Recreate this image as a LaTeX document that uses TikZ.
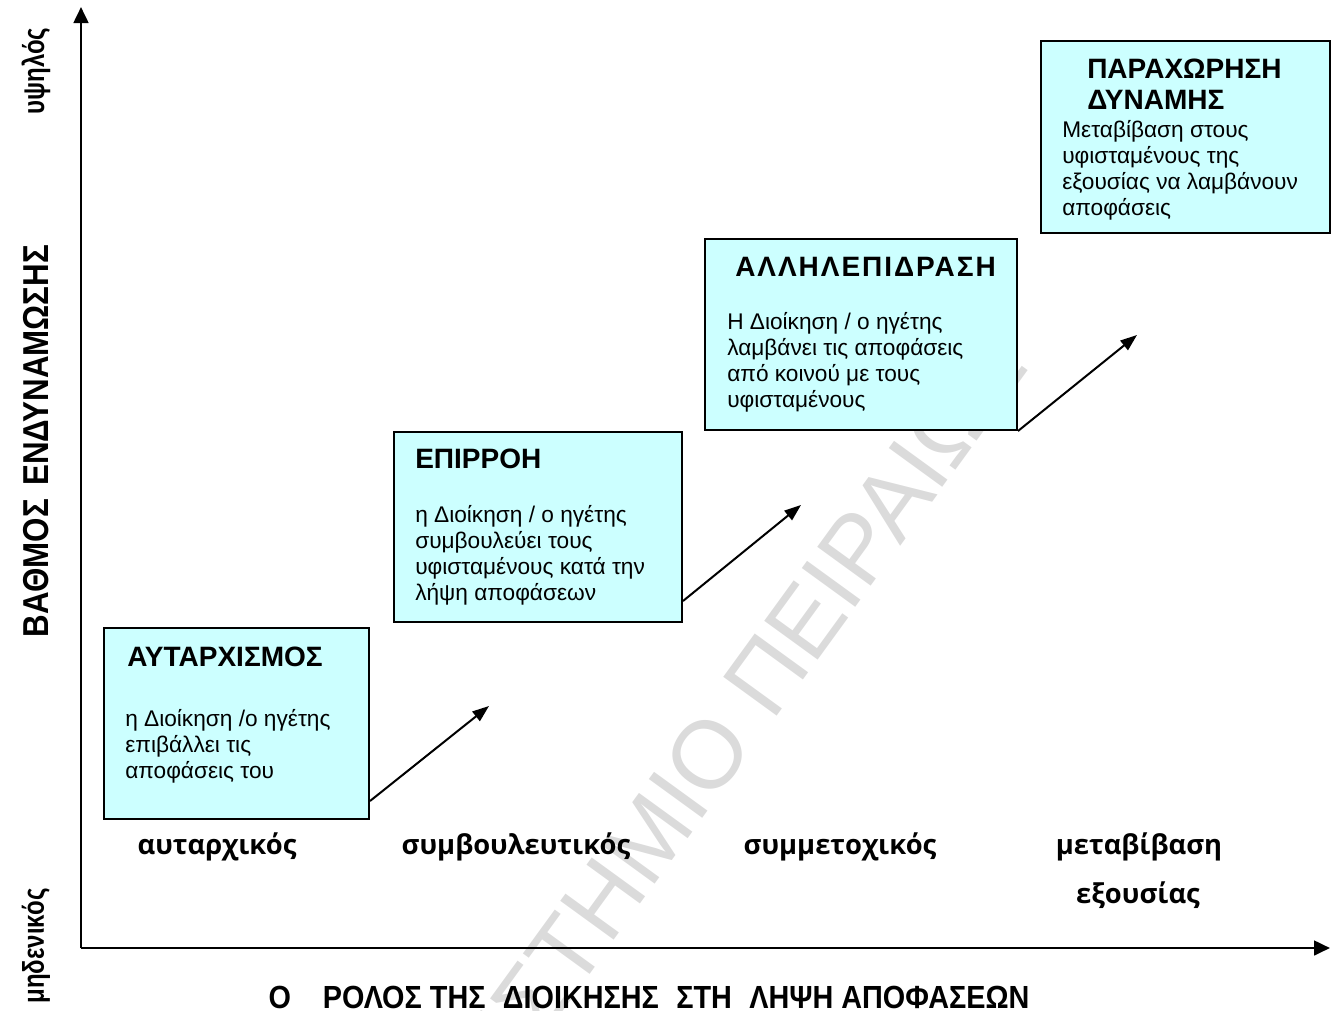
\documentclass[tikz,border=0pt]{standalone}
\usepackage{fontspec}
\setmainfont{Liberation Sans}
\newfontfamily\narrowA[FakeStretch=0.8]{Liberation Sans Bold}
\newfontfamily\narrowM[FakeStretch=0.87]{Liberation Sans Bold}
\newfontfamily\narrowB[FakeStretch=0.9]{Liberation Sans Bold}
\newfontfamily\labelfont{Open Sans}
\usetikzlibrary{arrows.meta,fit}
\definecolor{boxcyan}{HTML}{CCFFFF}
\begin{document}
\begin{tikzpicture}[x=0.75pt,y=-0.75pt,
  box/.style={draw=black, line width=1.5pt, fill=boxcyan, inner sep=0pt},
  ttl/.style={anchor=base west, inner sep=0pt, font=\fontsize{21}{25}\selectfont\bfseries},
  body/.style={anchor=base west, inner sep=0pt, align=left, font=\fontsize{17}{19.5}\selectfont},
  lvl/.style={anchor=base, inner sep=0pt, font=\labelfont\fontsize{20.5}{36}\selectfont\bfseries},
  axisline/.style={line width=2pt, -{Triangle[length=12pt,width=11pt]}},
  stepar/.style={line width=1.5pt, -{Triangle[length=12.5pt,width=9pt]}},
  ylab/.style={rotate=90, inner sep=0pt}
]
\useasboundingbox (0,0) rectangle (1334,1010);
% watermark
\begin{scope}
\clip (0,0) rectangle (1334,1010);
\node[rotate=54, text=black!14, font=\fontsize{72}{72}\selectfont, inner sep=0pt] (wm) at (652,832) {ΠΑΝΕΠΙΣΤΗΜΙΟ ΠΕΙΡΑΙΩΣ};
\end{scope}
% axes
\coordinate (O) at (81,948);
\coordinate (ytop) at (81,7);
\coordinate (xend) at (1330,948);
\draw[axisline] (O) -- (ytop);
\draw[axisline] (O) -- (xend);
% boxes
\node[box, fit={(104,628) (369,819)}] (b1) {};
\node[box, fit={(394,432) (682,622)}] (b2) {};
\node[box, fit={(705,239) (1017,430)}] (b3) {};
\node[box, fit={(1041,41) (1330,233)}] (b4) {};
% box texts
\node[ttl] (b1t) at (127,666) {ΑΥΤΑΡΧΙΣΜΟΣ};
\node[body] (b1b) at (125,778) {η Διοίκηση /ο ηγέτης\\επιβάλλει τις\\αποφάσεις του};
\node[ttl] (b2t) at (415,468) {ΕΠΙΡΡΟΗ};
\node[body] (b2b) at (415,600) {η Διοίκηση / ο ηγέτης\\συμβουλεύει τους\\υφισταμένους κατά την\\λήψη αποφάσεων};
\node[ttl, font=\fontsize{21}{25}\selectfont\bfseries\addfontfeature{LetterSpace=7}] (b3t) at (735,276) {ΑΛΛΗΛΕΠΙΔΡΑΣΗ};
\node[body] (b3b) at (727,407) {Η Διοίκηση / ο ηγέτης\\λαμβάνει τις αποφάσεις\\από κοινού με τους\\υφισταμένους};
\node[ttl] (b4t) at (1087,78) {ΠΑΡΑΧΩΡΗΣΗ};
\node[ttl] (b4u) at (1087,109) {ΔΥΝΑΜΗΣ};
\node[body] (b4b) at (1062,215) {Μεταβίβαση στους\\υφισταμένους της\\εξουσίας να λαμβάνουν\\αποφάσεις};
% arrows
\coordinate (t1) at (489,706);
\coordinate (t2) at (801,505);
\coordinate (t3) at (1137,335);
\draw[stepar] ([yshift=14.25pt]b1.south east) -- (t1);
\draw[stepar] ([yshift=16.5pt]b2.south east) -- (t2);
\draw[stepar] (b3.south east) -- (t3);
% level labels
\node[lvl] (l1) at (217,854) {αυταρχικός};
\node[lvl] (l2) at (516,854) {συμβουλευτικός};
\node[lvl] (l3) at (840,854) {συμμετοχικός};
\node[lvl] (l4) at (1139,854) {μεταβίβαση};
\node[lvl] (l5) at (1138,903) {εξουσίας};
% axis labels
\node[ylab, font=\narrowA\fontsize{22.5}{26}\selectfont] (yhi) at (36,71) {υψηλός};
\node[ylab, font=\narrowM\fontsize{27}{30}\selectfont] (ymid) at (36,441) {ΒΑΘΜΟΣ\hspace{10pt}ΕΝΔΥΝΑΜΩΣΗΣ};
\node[ylab, font=\narrowA\fontsize{22.5}{26}\selectfont] (ylo) at (36,946) {μηδενικός};
\node[inner sep=0pt, font=\narrowB\fontsize{24}{28}\selectfont] (xlab) at (649,997) {Ο\hspace{24pt}ΡΟΛΟΣ ΤΗΣ\hspace{13pt}ΔΙΟΙΚΗΣΗΣ\hspace{13pt}ΣΤΗ\hspace{13pt}ΛΗΨΗ ΑΠΟΦΑΣΕΩΝ};
\end{tikzpicture}
\end{document}
